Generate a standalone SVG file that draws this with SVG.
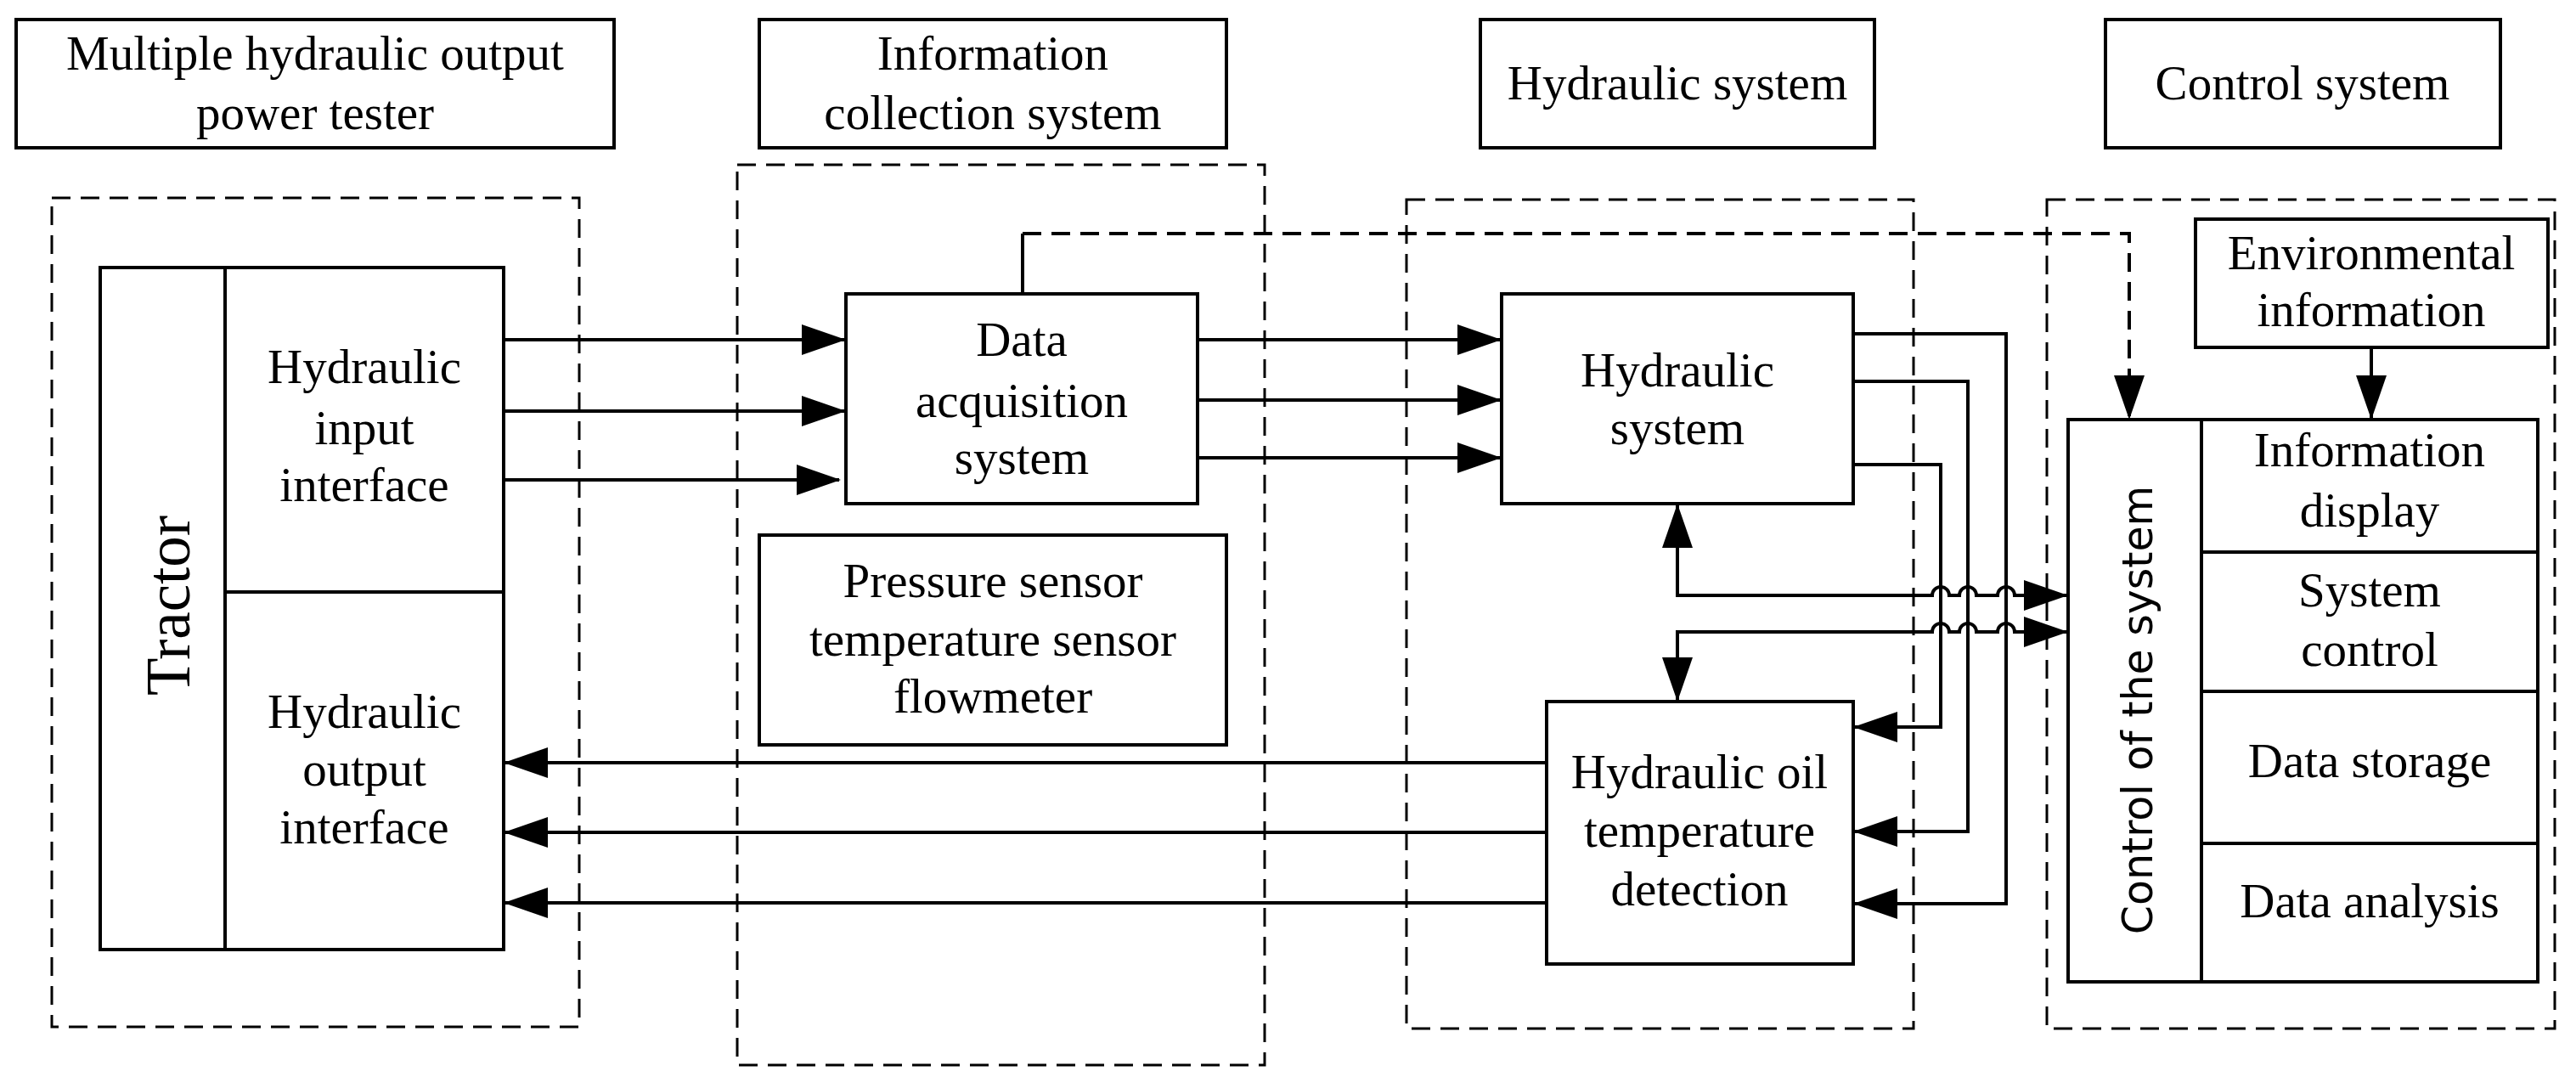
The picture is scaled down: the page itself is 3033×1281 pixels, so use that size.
<svg xmlns="http://www.w3.org/2000/svg" width="3033" height="1281" viewBox="0 0 3033 1281">
<style>
.b{fill:#fff;stroke:#000;stroke-width:4}
.d{fill:none;stroke:#000;stroke-width:3;stroke-dasharray:22 12}
.l{fill:none;stroke:#000;stroke-width:4}
.t{font-family:"Liberation Serif",serif;font-size:57px;text-anchor:middle;dominant-baseline:central}
.s{font-family:"DejaVu Sans","Noto Sans",sans-serif;font-size:49px;text-anchor:middle;dominant-baseline:central}
</style>
<defs>
<marker id="a" markerUnits="userSpaceOnUse" markerWidth="52" markerHeight="36" refX="50" refY="18" orient="auto-start-reverse"><path d="M0,0L52,18L0,36z"/></marker>
</defs>
<g id="title1"><rect class="b" x="19" y="23" width="704" height="151"/><text class="t" x="371" y="62">Multiple hydraulic output</text><text class="t" x="371" y="132">power tester</text></g>
<g id="title2"><rect class="b" x="894" y="23" width="550" height="151"/><text class="t" x="1169" y="62">Information</text><text class="t" x="1169" y="132">collection system</text></g>
<g id="title3"><rect class="b" x="1743" y="23" width="464" height="151"/><text class="t" x="1975" y="97">Hydraulic system</text></g>
<g id="title4"><rect class="b" x="2479" y="23" width="465" height="151"/><text class="t" x="2711" y="97">Control system</text></g>
<g id="groups">
<rect class="d" x="61" y="233" width="621" height="976"/>
<rect class="d" x="868" y="194" width="621" height="1060"/>
<rect class="d" x="1656" y="235" width="597" height="976"/>
<rect class="d" x="2410" y="235" width="598" height="976"/>
</g>
<g id="tractor"><rect class="b" x="118" y="315" width="475" height="803"/><line class="l" x1="265" y1="315" x2="265" y2="1118"/><line class="l" x1="265" y1="697" x2="593" y2="697"/>
<text class="t" style="font-size:73px" transform="translate(198,713) rotate(-90)">Tractor</text>
<text class="t" x="429" y="431">Hydraulic</text><text class="t" x="429" y="503">input</text><text class="t" x="429" y="570">interface</text>
<text class="t" x="429" y="837">Hydraulic</text><text class="t" x="429" y="905">output</text><text class="t" x="429" y="973">interface</text></g>
<g id="daq"><rect class="b" x="996" y="346" width="414" height="247"/><text class="t" x="1203" y="399">Data</text><text class="t" x="1203" y="471">acquisition</text><text class="t" x="1203" y="538">system</text></g>
<g id="sensors"><rect class="b" x="894" y="630" width="550" height="247"/><text class="t" x="1169" y="683">Pressure sensor</text><text class="t" x="1169" y="752">temperature sensor</text><text class="t" x="1169" y="819">flowmeter</text></g>
<g id="hyd"><rect class="b" x="1768" y="346" width="414" height="247"/><text class="t" x="1975" y="435">Hydraulic</text><text class="t" x="1975" y="503">system</text></g>
<g id="temp"><rect class="b" x="1821" y="826" width="361" height="309"/><text class="t" x="2001" y="908">Hydraulic oil</text><text class="t" x="2001" y="977">temperature</text><text class="t" x="2001" y="1046">detection</text></g>
<g id="env"><rect class="b" x="2585" y="258" width="415" height="151"/><text class="t" x="2792" y="297">Environmental</text><text class="t" x="2792" y="364">information</text></g>
<g id="control"><rect class="b" x="2435" y="494" width="553" height="662"/><line class="l" x1="2592" y1="494" x2="2592" y2="1156"/>
<path class="l" d="M2592,650H2988M2592,814H2988M2592,993H2988M2988,637V663M2988,801V827M2988,980V1006"/>
<text class="s" transform="translate(2517,836) rotate(-90)">Control of the system</text>
<text class="t" x="2790" y="529">Information</text><text class="t" x="2790" y="600">display</text>
<text class="t" x="2790" y="694">System</text><text class="t" x="2790" y="764">control</text>
<text class="t" x="2790" y="895">Data storage</text>
<text class="t" x="2790" y="1060">Data analysis</text></g>
<g id="connectors">
<line class="l" x1="593" y1="400" x2="994" y2="400" marker-end="url(#a)"/>
<line class="l" x1="593" y1="484" x2="994" y2="484" marker-end="url(#a)"/>
<line class="l" x1="593" y1="565" x2="988" y2="565" marker-end="url(#a)"/>
<line class="l" x1="1410" y1="400" x2="1766" y2="400" marker-end="url(#a)"/>
<line class="l" x1="1410" y1="471" x2="1766" y2="471" marker-end="url(#a)"/>
<line class="l" x1="1410" y1="539" x2="1766" y2="539" marker-end="url(#a)"/>
<line class="l" x1="1821" y1="898" x2="595" y2="898" marker-end="url(#a)"/>
<line class="l" x1="1821" y1="980" x2="595" y2="980" marker-end="url(#a)"/>
<line class="l" x1="1821" y1="1063" x2="595" y2="1063" marker-end="url(#a)"/>
<polyline class="l" points="2182,393 2362,393 2362,1064 2184,1064" marker-end="url(#a)"/>
<polyline class="l" points="2182,449 2317,449 2317,979 2184,979" marker-end="url(#a)"/>
<polyline class="l" points="2182,547 2285,547 2285,856 2184,856" marker-end="url(#a)"/>
<path class="l" d="M1975,595V701H2275a10,10 0 0 1 20,0H2307a10,10 0 0 1 20,0H2352a10,10 0 0 1 20,0H2433" marker-start="url(#a)" marker-end="url(#a)"/>
<path class="l" d="M1975,824V744H2275a10,10 0 0 1 20,0H2307a10,10 0 0 1 20,0H2352a10,10 0 0 1 20,0H2433" marker-start="url(#a)" marker-end="url(#a)"/>
<line class="l" x1="1204" y1="346" x2="1204" y2="275"/>
<polyline class="d" style="stroke-width:4" points="1204,275 2507,275 2507,492" marker-end="url(#a)"/>
<line class="l" x1="2792" y1="409" x2="2792" y2="492" marker-end="url(#a)"/>
</g>
</svg>
